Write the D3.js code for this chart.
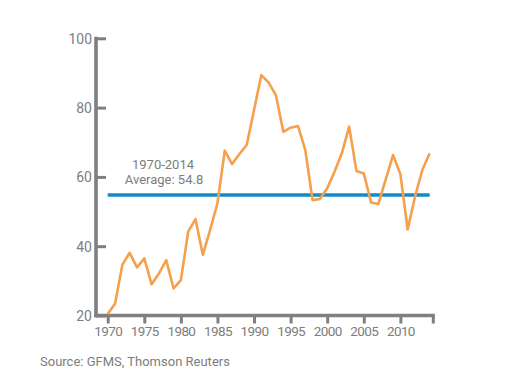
<!DOCTYPE html>
<html>
<head>
<meta charset="utf-8">
<script src="https://cdn.jsdelivr.net/npm/d3@7"></script>
<style>
  html, body { margin: 0; padding: 0; background: #fff; }
  svg { display: block; }
  text { font-family: Roboto, "Open Sans", sans-serif; fill: #7d7d7d; }
</style>
</head>
<body>
<svg id="chart" width="525" height="377"></svg>
<script>
const years = d3.range(1970, 2015);
const values = [
  20.4, 23.4, 34.6, 38.1, 33.9, 36.5, 29.0, 32.1, 36.0, 27.8,
  30.2, 44.2, 47.8, 37.5, 44.7, 52.4, 67.6, 63.7, 66.6, 69.2,
  79.3, 89.4, 87.2, 83.5, 73.0, 74.2, 74.7, 67.8, 53.3, 53.6,
  56.7, 61.5, 66.8, 74.5, 61.7, 61.0, 52.6, 52.2, 59.3, 66.3,
  60.8, 44.8, 54.3, 62.0, 66.8
];
const average = 54.8;
const averageLabel = ["1970-2014", "Average: 54.8"];
const xTickLabels = [1970, 1975, 1980, 1985, 1990, 1995, 2000, 2005, 2010];
const yTickLabels = [20, 40, 60, 80, 100];
const sourceText = "Source: GFMS, Thomson Reuters";

const svg = d3.select("#chart");
const x = d3.scaleLinear().domain([1968.4, 2014.5]).range([96, 433.3]);
const y = d3.scaleLinear().domain([20, 100]).range([315.5, 38.3]);
const axisColor = "#7f7f7f";

// Y axis
const yAxis = d3.axisLeft(y).tickValues(yTickLabels).tickSizeInner(-10).tickSizeOuter(0).tickPadding(4);
const gy = svg.append("g").attr("transform", `translate(${x.range()[0]},0)`).call(yAxis);
gy.select(".domain").remove();
gy.selectAll(".tick line").attr("stroke", axisColor).attr("stroke-width", 3);
gy.selectAll(".tick text").style("font-size", "14px").attr("fill", "#7d7d7d").attr("dy", "0.36em");
gy.append("line").attr("x1", 0).attr("x2", 0).attr("y1", y(100) - 1.5).attr("y2", y(20) + 1.8)
  .attr("stroke", axisColor).attr("stroke-width", 3.6);

// X axis
const xAxis = d3.axisBottom(x).tickValues(xTickLabels).tickFormat(d3.format("d")).tickSizeInner(8).tickSizeOuter(0).tickPadding(3);
const gx = svg.append("g").attr("transform", `translate(0,${y.range()[0]})`).call(xAxis);
gx.select(".domain").remove();
gx.selectAll(".tick line").attr("stroke", axisColor).attr("stroke-width", 3);
gx.selectAll(".tick text").style("font-size", "13.5px").style("letter-spacing", "-0.6px").attr("fill", "#7d7d7d");
gx.append("line").attr("x1", x.range()[0] - 1.8).attr("x2", x.range()[1] + 1.5).attr("y1", 0).attr("y2", 0)
  .attr("stroke", axisColor).attr("stroke-width", 3.6);
gx.append("line").attr("x1", x.range()[1]).attr("x2", x.range()[1]).attr("y1", 0).attr("y2", 8)
  .attr("stroke", axisColor).attr("stroke-width", 3);

// Average line
svg.append("line")
  .attr("x1", x(years[0])).attr("x2", x(years[years.length - 1]))
  .attr("y1", y(average)).attr("y2", y(average))
  .attr("stroke", "#128bc6").attr("stroke-width", 3.5);

// Data line
const line = d3.line().x((d, i) => x(years[i])).y(d => y(d));
svg.append("path").datum(values)
  .attr("d", line).attr("fill", "none")
  .attr("stroke", "#f5a04c").attr("stroke-width", 2.6)
  .attr("stroke-linejoin", "round");

// Average label
svg.append("text").attr("x", 163).attr("y", 168.5).attr("text-anchor", "middle")
  .style("font-size", "13px").text(averageLabel[0]);
svg.append("text").attr("x", 164).attr("y", 184).attr("text-anchor", "middle")
  .style("font-size", "13px").text(averageLabel[1]);

// Source
svg.append("text").attr("x", 40).attr("y", 366).style("font-size", "13px").text(sourceText);
</script>
</body>
</html>
